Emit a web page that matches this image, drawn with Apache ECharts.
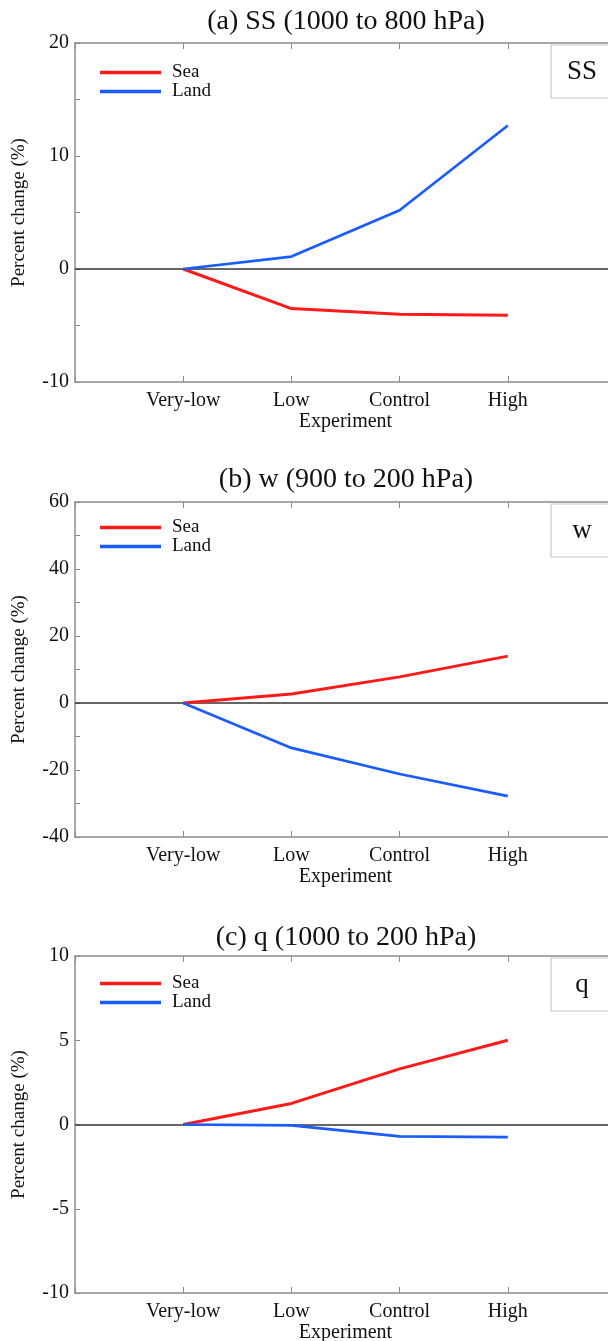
<!DOCTYPE html>
<html><head><meta charset="utf-8">
<script src="https://cdn.jsdelivr.net/npm/echarts@6/dist/echarts.min.js"></script>
<style>html,body{margin:0;padding:0;background:#fff}#c{width:608px;height:1341px}</style>
</head><body><div id="c"></div><script>
// ---- data ----
const categories = ['Very-low', 'Low', 'Control', 'High'];
const ssSea  = [0, -3.5, -4.0, -4.1];
const ssLand = [0, 1.1, 5.2, 12.7];
const wSea   = [0, 2.7, 7.8, 14.0];
const wLand  = [0, -13.4, -21.2, -27.8];
const qSea   = [0, 1.25, 3.3, 5.0];
const qLand  = [0, -0.05, -0.7, -0.75];
const panelTitles = ['(a) SS (1000 to 800 hPa)', '(b) w (900 to 200 hPa)', '(c) q (1000 to 200 hPa)'];
const boxLabels = ['SS', 'w', 'q'];
const yMin = [-10, -40, -10];
const yMax = [20, 60, 10];
const yTickStep = [5, 10, 5];
const yLabelStep = [10, 20, 5];
const seriesNames = ['Sea', 'Land'];

// ---- layout ----
const FONT = 'Liberation Serif';
const gridTop = [43, 502, 956];
const gridH = [339, 335, 337];
const titleY = [22, 480, 938];
const legendTop = [63, 518, 974];
const SEA = '#ff1a1a', LAND = '#1a5cff', AX = '#8c8c8c';

const panels = [[ssSea, ssLand], [wSea, wLand], [qSea, qLand]];
const toPairs = arr => arr.map((v, i) => [i + 1, v]);

const grid = [], xAxis = [], yAxis = [], series = [], legend = [], graphic = [];
panels.forEach((p, k) => {
  grid.push({left: 75, width: 541, top: gridTop[k], height: gridH[k], outerBoundsMode: 'none', containLabel: false});
  const xBase = {
    type: 'value', gridIndex: k, min: 0, max: 5, interval: 1,
    axisLine: {show: true, onZero: false, lineStyle: {color: AX, width: 1.5}},
    axisTick: {show: true, inside: true, length: 6, lineStyle: {color: AX, width: 1}},
    splitLine: {show: false}
  };
  xAxis.push(Object.assign({}, xBase, {
    position: 'bottom',
    name: 'Experiment', nameLocation: 'middle', nameGap: 30,
    nameTextStyle: {fontFamily: FONT, fontSize: 20, color: '#111'},
    axisLabel: {
      margin: 9, fontFamily: FONT, fontSize: 20, color: '#111',
      formatter: v => (v >= 1 && v <= 4) ? categories[v - 1] : ''
    }
  }));
  xAxis.push(Object.assign({}, xBase, {position: 'top', axisLabel: {show: false}}));
  yAxis.push({
    type: 'value', gridIndex: k, min: yMin[k], max: yMax[k], interval: yTickStep[k],
    name: 'Percent change (%)', nameLocation: 'middle', nameGap: 46,
    nameTextStyle: {fontFamily: FONT, fontSize: 19, color: '#111'},
    axisLine: {show: true, lineStyle: {color: AX, width: 1.5}},
    axisTick: {show: true, inside: true, length: 5, lineStyle: {color: AX}},
    splitLine: {show: false},
    axisLabel: {
      margin: 6, fontFamily: FONT, fontSize: 20, color: '#111',
      formatter: v => (Math.round(v) % yLabelStep[k] === 0) ? String(v) : ''
    }
  });
  series.push({
    name: 'Sea', type: 'line', xAxisIndex: 2 * k, yAxisIndex: k,
    data: toPairs(p[0]), showSymbol: false, symbol: 'none', z: 3,
    lineStyle: {color: SEA, width: 3}, itemStyle: {color: SEA},
    markLine: {
      silent: true, symbol: ['none', 'none'], label: {show: false},
      lineStyle: {color: '#333', width: 1.5, type: 'solid'},
      data: [{yAxis: 0}], z: 2
    }
  });
  series.push({
    name: 'Land', type: 'line', xAxisIndex: 2 * k, yAxisIndex: k,
    data: toPairs(p[1]), showSymbol: false, symbol: 'none', z: 3,
    lineStyle: {color: LAND, width: 2.7}, itemStyle: {color: LAND}
  });
  legend.push({
    data: seriesNames, orient: 'vertical', left: 100, top: legendTop[k],
    itemGap: 0, itemWidth: 61, itemHeight: 3.5, icon: 'rect', padding: 0,
    selectedMode: false,
    textStyle: {fontFamily: FONT, fontSize: 19, lineHeight: 16, color: '#111', padding: [0, 0, 0, 6]}
  });
  graphic.push({
    type: 'text', x: 346, y: titleY[k],
    style: {text: panelTitles[k], fontFamily: FONT, fontSize: 28, fill: '#111',
            align: 'center', verticalAlign: 'middle'}
  });
  graphic.push({
    type: 'rect', shape: {x: 551, y: gridTop[k] + 2, width: 80, height: 53},
    style: {fill: '#fff', stroke: '#c8c8c8', lineWidth: 1.2}, z: 10
  });
  graphic.push({
    type: 'text', x: 582, y: gridTop[k] + 28.5,
    style: {text: boxLabels[k], fontFamily: FONT, fontSize: 27, fill: '#111',
            align: 'center', verticalAlign: 'middle'}, z: 11
  });
});

const chart = echarts.init(document.getElementById('c'), null, {renderer: 'canvas'});
chart.setOption({
  animation: false, backgroundColor: '#fff',
  grid, xAxis, yAxis, series, legend, graphic
});
</script></body></html>
